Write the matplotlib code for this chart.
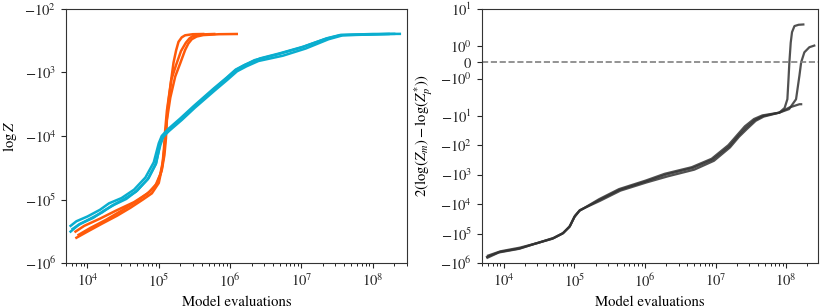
import matplotlib
matplotlib.use("Agg")
import matplotlib.pyplot as plt

plt.rcParams["font.family"] = "serif"
plt.rcParams["font.serif"] = ["STIXGeneral", "Liberation Serif", "DejaVu Serif"]
plt.rcParams["mathtext.fontset"] = "stix"
plt.rcParams["axes.unicode_minus"] = True

orange = "#ff5a0a"
cyan = "#0aaecf"

# left panel: evidence estimate vs model evaluations (three runs per sampler)
orange_x = [
    [7.0e3, 1.0e4, 1.6e4, 2.6e4, 4.0e4, 6.0e4, 8.0e4, 1.0e5, 1.12e5, 1.18e5, 1.23e5,
     1.3e5, 1.45e5, 1.61e5, 1.75e5, 1.89e5, 2.1e5, 2.34e5, 3.0e5, 4.2e5],
    [7.5e3, 1.1e4, 1.8e4, 3.0e4, 5.0e4, 7.5e4, 9.5e4, 1.1e5, 1.2e5, 1.26e5, 1.3e5,
     1.45e5, 1.7e5, 2.0e5, 2.34e5, 2.6e5, 2.9e5, 3.4e5, 4.2e5, 7.0e5, 1.24e6],
    [6.8e3, 9.0e3, 1.5e4, 2.5e4, 4.5e4, 7.0e4, 9.0e4, 1.05e5, 1.15e5, 1.22e5, 1.28e5,
     1.36e5, 1.5e5, 1.75e5, 2.05e5, 2.4e5, 2.7e5, 3.0e5, 4.0e5, 6.0e5],
]
orange_y = [
    [-4.0e5, -3.2e5, -2.4e5, -1.8e5, -1.35e5, -1.0e5, -8.0e4, -5.5e4, -3.0e4, -1.6e4, -8.1e3,
     -4.0e3, -1.67e3, -700, -450, -330, -280, -260, -250, -248],
    [-3.6e5, -2.8e5, -2.1e5, -1.5e5, -1.05e5, -7.5e4, -5.5e4, -3.5e4, -2.0e4, -1.1e4, -5.6e3,
     -2.5e3, -1.16e3, -716, -443, -350, -300, -272, -258, -250, -248],
    [-3.2e5, -2.6e5, -2.0e5, -1.5e5, -1.1e5, -8.0e4, -6.0e4, -4.0e4, -2.4e4, -1.3e4, -6.5e3,
     -3.0e3, -1.3e3, -760, -460, -340, -290, -268, -252, -248],
]

cyan_x = [
    [5.8e3, 7.0e3, 1.0e4, 1.5e4, 2.0e4, 3.0e4, 4.5e4, 6.5e4, 8.5e4, 1.0e5, 1.1e5, 1.2e5,
     1.35e5, 2.0e5, 3.07e5, 5.85e5, 9.0e5, 1.2e6, 1.6e6, 2.64e6, 5.0e6, 1.07e7, 2.3e7,
     3.5e7, 1.0e8, 2.4e8],
    [5.8e3, 7.5e3, 1.1e4, 1.6e4, 2.2e4, 3.2e4, 4.8e4, 7.0e4, 9.0e4, 1.05e5, 1.15e5, 1.25e5,
     1.4e5, 2.1e5, 3.2e5, 6.0e5, 9.2e5, 1.25e6, 1.7e6, 2.5e6, 5.5e6, 1.15e7, 2.4e7,
     3.8e7, 1.67e8],
    [6.2e3, 8.0e3, 1.2e4, 1.7e4, 2.4e4, 3.5e4, 5.0e4, 7.2e4, 9.2e4, 1.04e5, 1.12e5, 1.22e5,
     1.38e5, 2.05e5, 3.1e5, 5.9e5, 8.8e5, 1.18e6, 1.55e6, 2.2e6, 4.6e6, 1.0e7, 2.2e7,
     3.6e7, 2.0e8],
]
cyan_y = [
    [-2.6e5, -2.2e5, -1.85e5, -1.45e5, -1.15e5, -9.5e4, -7.0e4, -4.5e4, -2.6e4, -1.3e4, -1.0e4,
     -9.0e3, -7.8e3, -5.3e3, -3.4e3, -1.8e3, -1.2e3, -900, -760, -600, -499, -392, -289,
     -257, -248, -247],
    [-3.2e5, -2.5e5, -2.0e5, -1.6e5, -1.25e5, -1.0e5, -7.5e4, -4.8e4, -2.8e4, -1.4e4, -1.05e4,
     -9.4e3, -8.3e3, -5.6e3, -3.6e3, -1.95e3, -1.3e3, -960, -800, -660, -545, -420, -300,
     -260, -248],
    [-2.9e5, -2.4e5, -1.95e5, -1.5e5, -1.2e5, -9.8e4, -7.2e4, -4.6e4, -2.7e4, -1.35e4, -1.02e4,
     -9.2e3, -8.0e3, -5.5e3, -3.5e3, -1.85e3, -1.25e3, -930, -780, -640, -520, -405, -295,
     -258, -247],
]

# right panel: 2(log Z_m - log Z_p*) vs model evaluations
diff_x = [
    [5.8e3, 8.8e3, 1.68e4, 2.9e4, 5.0e4, 6.9e4, 8.6e4, 1.01e5, 1.19e5, 2.28e5, 4.4e5, 1.04e6,
     2.0e6, 4.8e6, 9.1e6, 1.57e7, 2.1e7, 2.7e7, 3.6e7, 4.7e7, 8.0e7, 9.5e7, 1.04e8, 1.08e8,
     1.11e8, 1.16e8, 1.21e8, 1.31e8, 1.5e8, 1.75e8],
    [6.0e3, 9.0e3, 1.7e4, 3.0e4, 5.1e4, 7.0e4, 8.7e4, 1.02e5, 1.2e5, 2.3e5, 4.5e5, 1.05e6,
     2.1e6, 5.0e6, 9.5e6, 1.6e7, 2.15e7, 2.8e7, 3.7e7, 4.8e7, 8.0e7, 1.1e8, 1.38e8, 1.54e8,
     1.63e8, 1.81e8, 2.13e8, 2.5e8],
    [5.9e3, 8.5e3, 1.65e4, 2.8e4, 4.9e4, 6.8e4, 8.5e4, 1.0e5, 1.18e5, 2.25e5, 4.3e5, 1.02e6,
     1.9e6, 4.6e6, 8.8e6, 1.52e7, 2.05e7, 2.6e7, 3.5e7, 4.6e7, 8.0e7, 1.11e8, 1.54e8, 1.63e8],
]
diff_y = [
    [-6.2e5, -4.2e5, -3.2e5, -2.15e5, -1.46e5, -9.8e4, -5.8e4, -2.66e4, -1.66e4, -7.2e3,
     -3.27e3, -1.7e3, -1.0e3, -594, -309, -109, -48, -25.6, -14, -10.3, -7.9, -5.5, -2.77,
     -1.0, 0.0, 1.2, 1.84, 2.62, 2.9, 2.97],
    [-5.6e5, -4.0e5, -3.0e5, -2.1e5, -1.4e5, -9.5e4, -5.5e4, -2.5e4, -1.6e4, -7.8e3,
     -3.5e3, -1.85e3, -1.15e3, -680, -340, -120, -52, -28.0, -15, -10.8, -7.9, -6.0, -2.77,
     -0.82, 0.0, 0.61, 0.92, 1.02],
    [-6.6e5, -4.4e5, -3.3e5, -2.2e5, -1.5e5, -1.0e5, -6.0e4, -2.8e4, -1.7e4, -6.8e3,
     -3.1e3, -1.6e3, -9.4e2, -560, -290, -100, -44, -23.0, -13, -9.8, -7.9, -5.3, -4.1, -4.1],
]

fig = plt.figure(figsize=(8.25, 3.08), dpi=100)
ax1 = fig.add_axes([0.080, 0.146, 0.413, 0.825])
ax2 = fig.add_axes([0.584, 0.146, 0.408, 0.825])

for xs, ys in zip(orange_x, orange_y):
    ax1.plot(xs, ys, color=orange, lw=1.8)
for xs, ys in zip(cyan_x, cyan_y):
    ax1.plot(xs, ys, color=cyan, lw=1.8)

ax1.set_xscale("log")
ax1.set_yscale("symlog")
ax1.set_xlim(5.0e3, 3.0e8)
ax1.set_ylim(-1e6, -1e2)
ax1.set_xlabel("Model evaluations", fontsize=10.6)
ax1.set_ylabel(r"$\log Z$", fontsize=10.6)

for xs, ys in zip(diff_x, diff_y):
    ax2.plot(xs, ys, color="0.2", lw=1.6, alpha=0.85)
ax2.axhline(0, color="0.5", lw=1.2, ls="--")

ax2.set_xscale("log")
ax2.set_yscale("symlog", linthresh=2)
ax2.set_xlim(4.9e3, 2.86e8)
ax2.set_ylim(-1e6, 10)
ax2.set_xlabel("Model evaluations", fontsize=10.6)
ax2.set_ylabel(r"$2(\log(Z_m) - \log(Z_p^{*}))$", fontsize=10.6)

for ax in (ax1, ax2):
    ax.tick_params(labelsize=10.5, colors="0.15")
    for s in ax.spines.values():
        s.set_color("0.2")

fig.savefig("out.png", dpi=100)
